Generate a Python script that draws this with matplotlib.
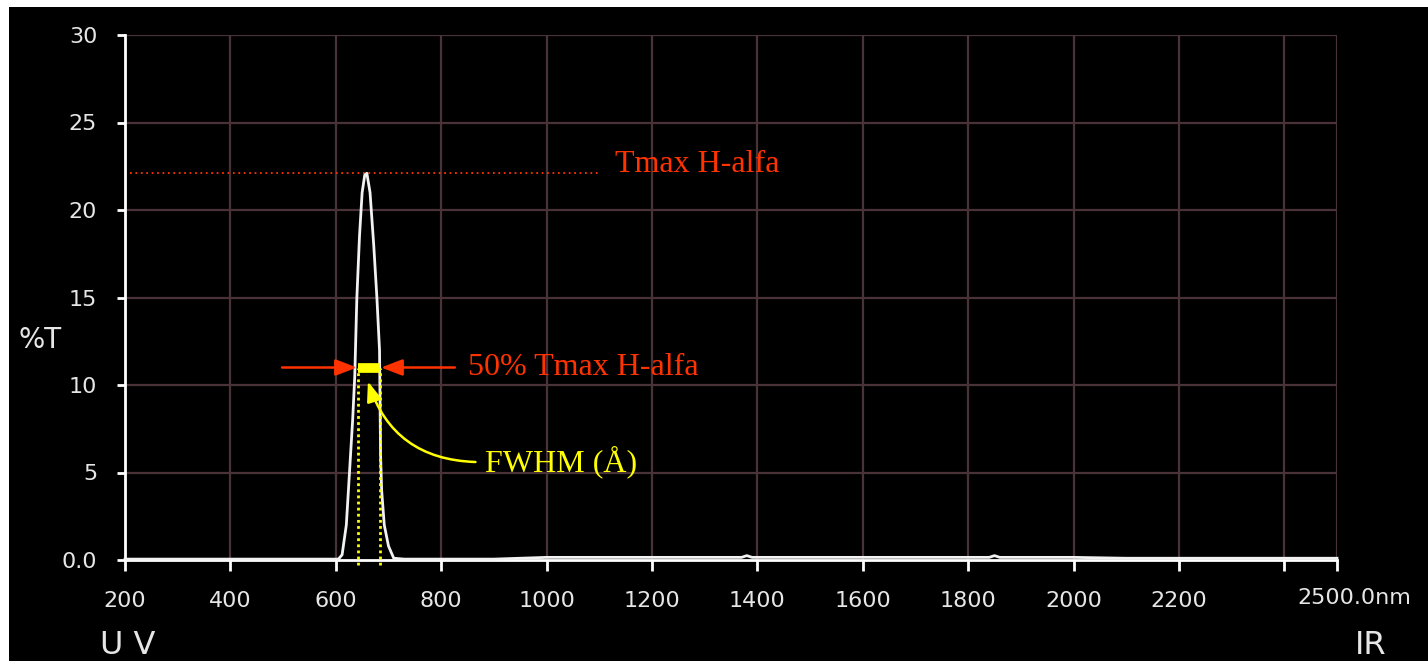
import matplotlib.pyplot as plt
from matplotlib.patches import Rectangle

# spectrum (nm, %T)
wavelength = [200, 400, 590, 605, 612, 620, 627, 632, 636, 640, 645, 650, 655, 659,
              665, 672, 678, 683, 684, 685, 687, 692, 700, 710, 730, 900, 1000,
              1100, 1370, 1380, 1390, 1500, 1840, 1850, 1860, 2000, 2100, 2300, 2500]
transmission = [0.05, 0.05, 0.05, 0.05, 0.3, 2.0, 5.5, 8.0, 10.5, 15.0, 18.5, 21.0, 22.0, 22.1,
                21.0, 18.0, 15.0, 12.0, 9.0, 6.0, 4.0, 2.0, 0.8, 0.1, 0.05, 0.05, 0.15,
                0.15, 0.15, 0.25, 0.15, 0.15, 0.15, 0.25, 0.15, 0.15, 0.1, 0.1, 0.1]

xticks = [200, 400, 600, 800, 1000, 1200, 1400, 1600, 1800, 2000, 2200, 2400, 2500]
xticklabels = ['200', '400', '600', '800', '1000', '1200', '1400', '1600', '1800',
               '2000', '2200', '', '']
end_label = '2500.0nm'
yticks = [0, 5, 10, 15, 20, 25, 30]
yticklabels = ['0.0', '5', '10', '15', '20', '25', '30']

t_max = 22.1
half_max = 11.0
fwhm_lo, fwhm_hi = 642, 684

red = '#ff3300'
yellow = '#ffff00'
grid_col = '#4a3338'
txt_col = '#e6e6e6'

fig = plt.figure(figsize=(14.28, 6.61), dpi=100, facecolor='white')
# black screen area (white margin top/left like the scan)
fig.patches.append(Rectangle((9 / 1428, 0), 1, 1 - 7 / 661, transform=fig.transFigure,
                             facecolor='black', edgecolor='none', zorder=-10))

ax = fig.add_axes([125 / 1428, 1 - 560 / 661, (1337 - 125) / 1428, (560 - 35) / 661])
ax.set_facecolor('black')
ax.set_xlim(200, 2500)
ax.set_ylim(0, 30)

for s in ['top', 'right']:
    ax.spines[s].set_visible(False)
for s in ['left', 'bottom']:
    ax.spines[s].set_color('white')
    ax.spines[s].set_linewidth(2)

for x in xticks[1:]:
    ax.axvline(x, color=grid_col, lw=1.6, zorder=1)
for y in yticks[1:]:
    ax.axhline(y, color=grid_col, lw=1.6, zorder=1)

ax.set_xticks(xticks)
ax.set_xticklabels(xticklabels)
ax.set_yticks(yticks)
ax.set_yticklabels(yticklabels)
ax.tick_params(axis='x', colors='white', labelcolor=txt_col, length=8, width=2,
               pad=14, labelsize=16)
ax.tick_params(axis='y', colors='white', labelcolor=txt_col, length=6, width=2,
               pad=14, labelsize=16)

ax.plot(wavelength, transmission, color='#f2f2f2', lw=2, zorder=4, clip_on=False)

# Tmax dotted line
ax.plot([210, 1097], [t_max, t_max], color=red, lw=1.3, ls=(0, (1, 2)), zorder=3)
ax.text(1130, t_max + 0.5, 'Tmax H-alfa', color=red, fontsize=23,
        family='Liberation Serif', va='center', ha='left')

# FWHM bar and dotted verticals
ax.plot([fwhm_lo, fwhm_hi], [half_max, half_max], color=yellow, lw=7,
        solid_capstyle='butt', zorder=5)
for x in (fwhm_lo, fwhm_hi):
    ax.plot([x, x], [-0.3, half_max], color=yellow, lw=2, ls=(0, (1, 1.2)),
            zorder=5, clip_on=False)

# red arrows
ax.annotate('', xy=(fwhm_lo - 2, half_max), xytext=(498, half_max),
            arrowprops=dict(arrowstyle='-|>,head_length=1.3,head_width=0.5',
                            color=red, lw=1.8, shrinkA=0, shrinkB=0), zorder=6)
ax.annotate('', xy=(fwhm_hi + 2, half_max), xytext=(826, half_max),
            arrowprops=dict(arrowstyle='-|>,head_length=1.3,head_width=0.5',
                            color=red, lw=1.8, shrinkA=0, shrinkB=0), zorder=6)
ax.text(851, half_max, '50% Tmax H-alfa', color=red, fontsize=23,
        family='Liberation Serif', va='center', ha='left')

# FWHM curved arrow
ax.annotate('', xy=(661, 10.2), xytext=(865, 5.6),
            arrowprops=dict(arrowstyle='-|>,head_length=1.2,head_width=0.45',
                            color=yellow, lw=1.8, shrinkA=0, shrinkB=0,
                            connectionstyle='arc3,rad=-0.35'), zorder=6)
ax.text(883, 5.6, 'FWHM (Å)', color=yellow, fontsize=23,
        family='Liberation Serif', va='center', ha='left')

fig.text(1297 / 1428, 1 - 598 / 661, end_label, color=txt_col, fontsize=16,
         va='center', ha='left')
fig.text(18 / 1428, 1 - 340 / 661, '%T', color=txt_col, fontsize=20, va='center', ha='left')
fig.text(100 / 1428, 1 - 645 / 661, 'U V', color=txt_col, fontsize=23, va='center', ha='left')
fig.text(1355 / 1428, 1 - 645 / 661, 'IR', color=txt_col, fontsize=23, va='center', ha='left')

fig.savefig('out.png', dpi=100, facecolor=fig.get_facecolor())
